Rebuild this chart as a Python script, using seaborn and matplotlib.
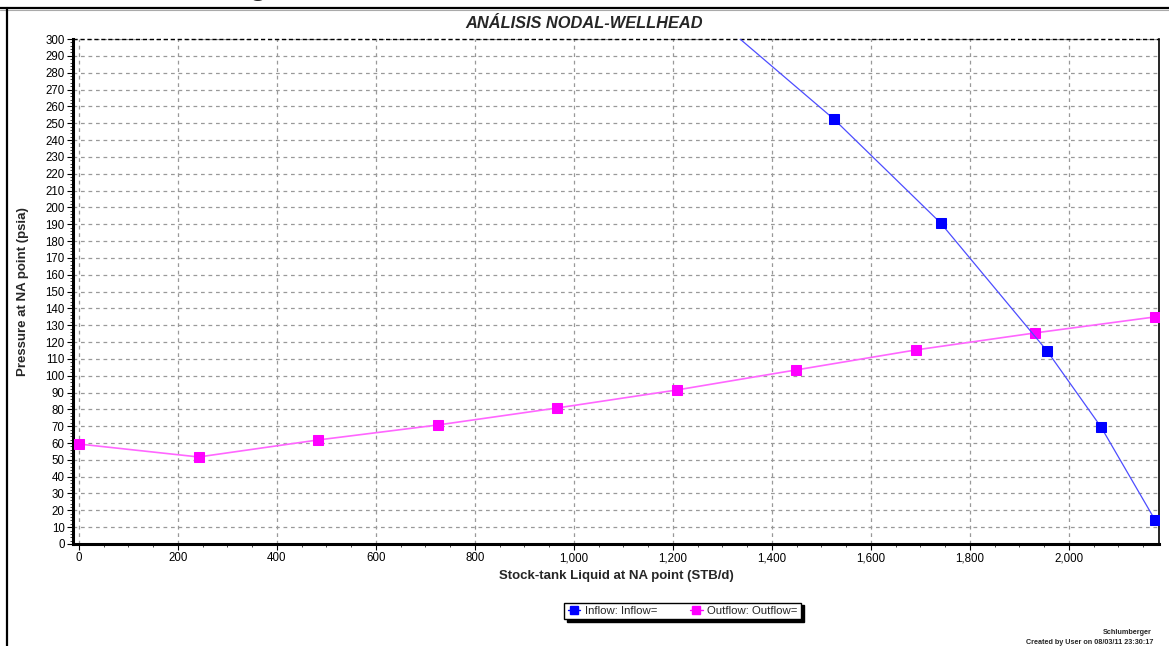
import matplotlib
matplotlib.use("Agg")
import matplotlib.pyplot as plt
from matplotlib.lines import Line2D
from matplotlib.ticker import MultipleLocator, FuncFormatter
import seaborn as sns
import pandas as pd

# Inflow (IPR) curve: liquid rate (STB/d) vs pressure (psia)
inflow_rate = [1309, 1525, 1741, 1956, 2065, 2174]
inflow_pressure = [306.7, 252.5, 190.7, 114.7, 69.5, 14.3]

# Outflow (VLP) curve
outflow_rate = [0, 242, 483, 725, 966, 1208, 1449, 1691, 1932, 2174]
outflow_pressure = [59.4, 51.7, 61.8, 70.7, 80.8, 91.5, 103.4, 115.3, 125.4, 134.9]

title = "ANÁLISIS NODAL-WELLHEAD"
x_label = "Stock-tank Liquid at NA point (STB/d)"
y_label = "Pressure at NA point (psia)"
inflow_name = "Inflow: Inflow="
outflow_name = "Outflow: Outflow="

sns.set_style("ticks")
plt.rcParams["font.family"] = ["Liberation Sans", "DejaVu Sans"]

fig = plt.figure(figsize=(11.69, 6.46), dpi=100)
ax = fig.add_axes([0.0624, 0.1579, 0.9290, 0.7817])

inflow = pd.DataFrame({"rate": inflow_rate, "pressure": inflow_pressure})
outflow = pd.DataFrame({"rate": outflow_rate, "pressure": outflow_pressure})

sns.lineplot(data=outflow, x="rate", y="pressure", ax=ax, color="#ff66ff",
             linewidth=1.2, marker="s", markersize=7.2, markerfacecolor="#ff00ff",
             markeredgecolor="#ff00ff", legend=False, zorder=3)
sns.lineplot(data=inflow, x="rate", y="pressure", ax=ax, color="#4d4dff",
             linewidth=0.9, marker="s", markersize=7.2, markerfacecolor="#0000ff",
             markeredgecolor="#0000ff", legend=False, zorder=4)

ax.set_xlim(-12, 2182)
ax.set_ylim(0, 300)
ax.xaxis.set_major_locator(MultipleLocator(200))
ax.xaxis.set_minor_locator(MultipleLocator(50))
ax.yaxis.set_major_locator(MultipleLocator(10))
ax.yaxis.set_minor_locator(MultipleLocator(2))
ax.xaxis.set_major_formatter(FuncFormatter(lambda v, p: f"{int(v):,}"))

ax.grid(True, which="major", color="#999999", linestyle=(0, (3, 3)), linewidth=0.9)
ax.tick_params(axis="both", which="major", labelsize=8.3, length=4, width=0.8,
               colors="black", pad=2)
ax.tick_params(axis="both", which="minor", length=2, width=0.6)

for side in ("left", "bottom"):
    ax.spines[side].set_linewidth(2.2)
    ax.spines[side].set_color("black")
ax.spines["right"].set_linewidth(1.2)
ax.spines["right"].set_color("black")
ax.spines["top"].set_visible(False)
ax.axhline(300, color="black", linestyle=(0, (3, 2)), linewidth=1.0, clip_on=False)

ax.set_xlabel(x_label, fontsize=9.5, fontweight="bold", labelpad=4)
ax.set_ylabel(y_label, fontsize=9.5, fontweight="bold", labelpad=12)

fig.text(0.5, 1 - 24 / 646, title, ha="center", va="center", fontsize=11.8,
         fontweight="bold", fontstyle="italic")

# Legend below the plot, with a solid drop shadow
handles = [
    Line2D([0], [0], color="#0000ff", linewidth=1, marker="s", markersize=6,
           markerfacecolor="#0000ff", markeredgecolor="#0000ff"),
    Line2D([0], [0], color="#ff00ff", linewidth=1, marker="s", markersize=6,
           markerfacecolor="#ff00ff", markeredgecolor="#ff00ff"),
]
leg = fig.legend(handles, [inflow_name, outflow_name], loc="center",
                 bbox_to_anchor=(0.584, 1 - 611 / 646), ncol=2, fontsize=8.2,
                 frameon=True, fancybox=False, handlelength=1.1, handletextpad=0.4,
                 columnspacing=2.9, borderpad=0.3,
                 shadow={"color": "black", "alpha": 1.0})
leg.get_frame().set_edgecolor("black")
leg.get_frame().set_linewidth(1.0)

# Footer credits
fig.text(1152 / 1169, 1 - 633 / 646, "Schlumberger", ha="right", va="center",
         fontsize=5.2, fontweight="bold")
fig.text(1153 / 1169, 1 - 643 / 646, "Created by User on 08/03/11 23:30:17",
         ha="right", va="center", fontsize=5.2, fontweight="bold")

# Page frame lines and the cut-off heading glyph above the chart
fig.add_artist(Line2D([0, 1], [1 - 8 / 646, 1 - 8 / 646], color="black",
                      linewidth=1.6, transform=fig.transFigure))
fig.add_artist(Line2D([0, 1], [1 - 10 / 646, 1 - 10 / 646], color="#aaaaaa",
                      linewidth=0.8, transform=fig.transFigure))
fig.add_artist(Line2D([7 / 1169, 7 / 1169], [0, 1 - 8 / 646], color="black",
                      linewidth=1.6, transform=fig.transFigure))
fig.text(258 / 1169, 1 + 6 / 646, "g", ha="center", va="baseline", fontsize=22,
         fontweight="bold")

fig.savefig("out.png", dpi=100)
